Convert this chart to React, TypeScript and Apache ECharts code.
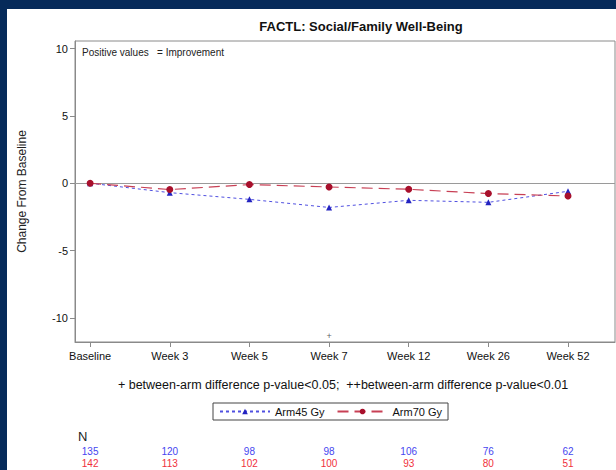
import React, { useEffect, useRef } from "react";
import * as echarts from "echarts";

const categories = ["Baseline", "Week 3", "Week 5", "Week 7", "Week 12", "Week 26", "Week 52"];
const arm45 = [0, -0.7, -1.2, -1.8, -1.27, -1.42, -0.6];
const arm70 = [0, -0.47, -0.1, -0.28, -0.45, -0.77, -0.95];
const nArm45 = [135, 120, 98, 98, 106, 76, 62];
const nArm70 = [142, 113, 102, 100, 93, 80, 51];
const sigMarks = [[3, -11.35, "+"]];
const yTicks = [-10, -5, 0, 5, 10];
const idx = categories.map((_, i) => i);

const FONT = "'Liberation Sans', Arial, sans-serif";

export default function App() {
  const ref = useRef<HTMLDivElement>(null);
  useEffect(() => {
    if (!ref.current) return;
    const chart = echarts.init(ref.current, undefined, { renderer: "svg" });
    chart.setOption({
      animation: false,
      backgroundColor: "transparent",
      textStyle: { fontFamily: FONT },
      grid: { left: 75, top: 41, right: 1, bottom: 128, show: true, borderColor: "#8a8a8a", borderWidth: 1, backgroundColor: "transparent" },
      xAxis: [
        {
          type: "value",
          min: -0.19,
          max: 6.59,
          position: "bottom",
          splitLine: { show: false },
          axisLine: { show: true, onZero: false, lineStyle: { color: "#8a8a8a" } },
          axisTick: { show: true, customValues: idx, length: 5, lineStyle: { color: "#8a8a8a" } },
          axisLabel: {
            customValues: idx,
            formatter: (v: number) => categories[Math.round(v)] ?? "",
            color: "#111",
            fontSize: 11,
            margin: 8,
            fontFamily: FONT,
          },
        },
        {
          type: "value",
          min: -0.19,
          max: 6.59,
          position: "bottom",
          offset: 103,
          splitLine: { show: false },
          axisLine: { show: false, onZero: false },
          axisTick: { show: false },
          axisLabel: {
            customValues: idx,
            formatter: (v: number) => {
              const i = Math.round(v);
              return `{a|${nArm45[i]}}\n{b|${nArm70[i]}}`;
            },
            margin: 0,
            rich: {
              a: { color: "#4646f0", fontSize: 10, lineHeight: 12, fontFamily: FONT },
              b: { color: "#f0303c", fontSize: 10, lineHeight: 12, fontFamily: FONT },
            },
          },
        },
      ],
      yAxis: {
        type: "value",
        min: -11.8,
        max: 10.57,
        name: "Change From Baseline",
        nameLocation: "middle",
        nameGap: 47,
        nameTextStyle: { fontSize: 12, color: "#222", fontFamily: FONT },
        splitLine: { show: false },
        axisLine: { show: true, onZero: false, lineStyle: { color: "#8a8a8a" } },
        axisTick: { show: true, customValues: yTicks, length: 5, lineStyle: { color: "#8a8a8a" } },
        axisLabel: { customValues: yTicks, color: "#111", fontSize: 11, margin: 7, fontFamily: FONT },
      },
      legend: {
        data: ["Arm45 Gy", "Arm70 Gy"],
        left: 213,
        top: 403,
        orient: "horizontal",
        itemWidth: 50,
        itemHeight: 7,
        itemGap: 12,
        padding: [3, 6, 3, 6],
        borderColor: "#444",
        borderWidth: 1,
        textStyle: { fontSize: 11, color: "#111", fontFamily: FONT },
      },
      graphic: [
        {
          type: "text",
          x: 361,
          y: 26,
          style: { text: "FACTL: Social/Family Well-Being", align: "center", verticalAlign: "middle", font: `bold 13px ${FONT}`, fill: "#111" },
        },
        {
          type: "text",
          x: 82,
          y: 52,
          style: { text: "Positive values   = Improvement", align: "left", verticalAlign: "middle", font: `10px ${FONT}`, fill: "#222" },
        },
        {
          type: "text",
          x: 343,
          y: 385,
          style: {
            text: "+ between-arm difference p-value<0.05;  ++between-arm difference p-value<0.01",
            align: "center",
            verticalAlign: "middle",
            font: `12.5px ${FONT}`,
            fill: "#111",
          },
        },
        {
          type: "text",
          x: 78,
          y: 436,
          style: { text: "N", align: "left", verticalAlign: "middle", font: `13px ${FONT}`, fill: "#222" },
        },
      ],
      series: [
        {
          name: "Arm45 Gy",
          type: "line",
          data: arm45.map((v, i) => [i, v]),
          symbol: "triangle",
          symbolSize: 6,
          itemStyle: { color: "#2323c0" },
          lineStyle: { color: "#5050e0", width: 1, type: [3, 3] },
          markLine: {
            silent: true,
            symbol: "none",
            label: { show: false },
            lineStyle: { color: "#9a9a9a", type: "solid", width: 1.2 },
            data: [{ yAxis: 0 }],
            z: 1,
          },
          z: 3,
        },
        {
          name: "Arm70 Gy",
          type: "line",
          data: arm70.map((v, i) => [i, v]),
          symbol: "circle",
          symbolSize: 7,
          itemStyle: { color: "#a8102c" },
          lineStyle: { color: "#c84055", width: 1.2, type: [11, 6] },
          z: 4,
        },
        {
          name: "sig",
          type: "scatter",
          data: sigMarks.map((d) => [d[0], d[1], d[2]]),
          symbolSize: 1,
          itemStyle: { color: "transparent" },
          label: {
            show: true,
            position: "inside",
            formatter: (p: any) => p.value[2],
            fontSize: 9,
            color: "#333",
            fontFamily: FONT,
          },
        },
      ],
    });
    return () => chart.dispose();
  }, []);

  return (
    <div style={{ position: "fixed", left: 0, top: 0, width: 616, height: 470, background: "#062a5a", overflow: "hidden" }}>
      <div style={{ position: "absolute", left: 7, top: 9, width: 609, height: 461, background: "#ffffff" }} />
      <div ref={ref} style={{ position: "absolute", left: 0, top: 0, width: 616, height: 470 }} />
    </div>
  );
}
